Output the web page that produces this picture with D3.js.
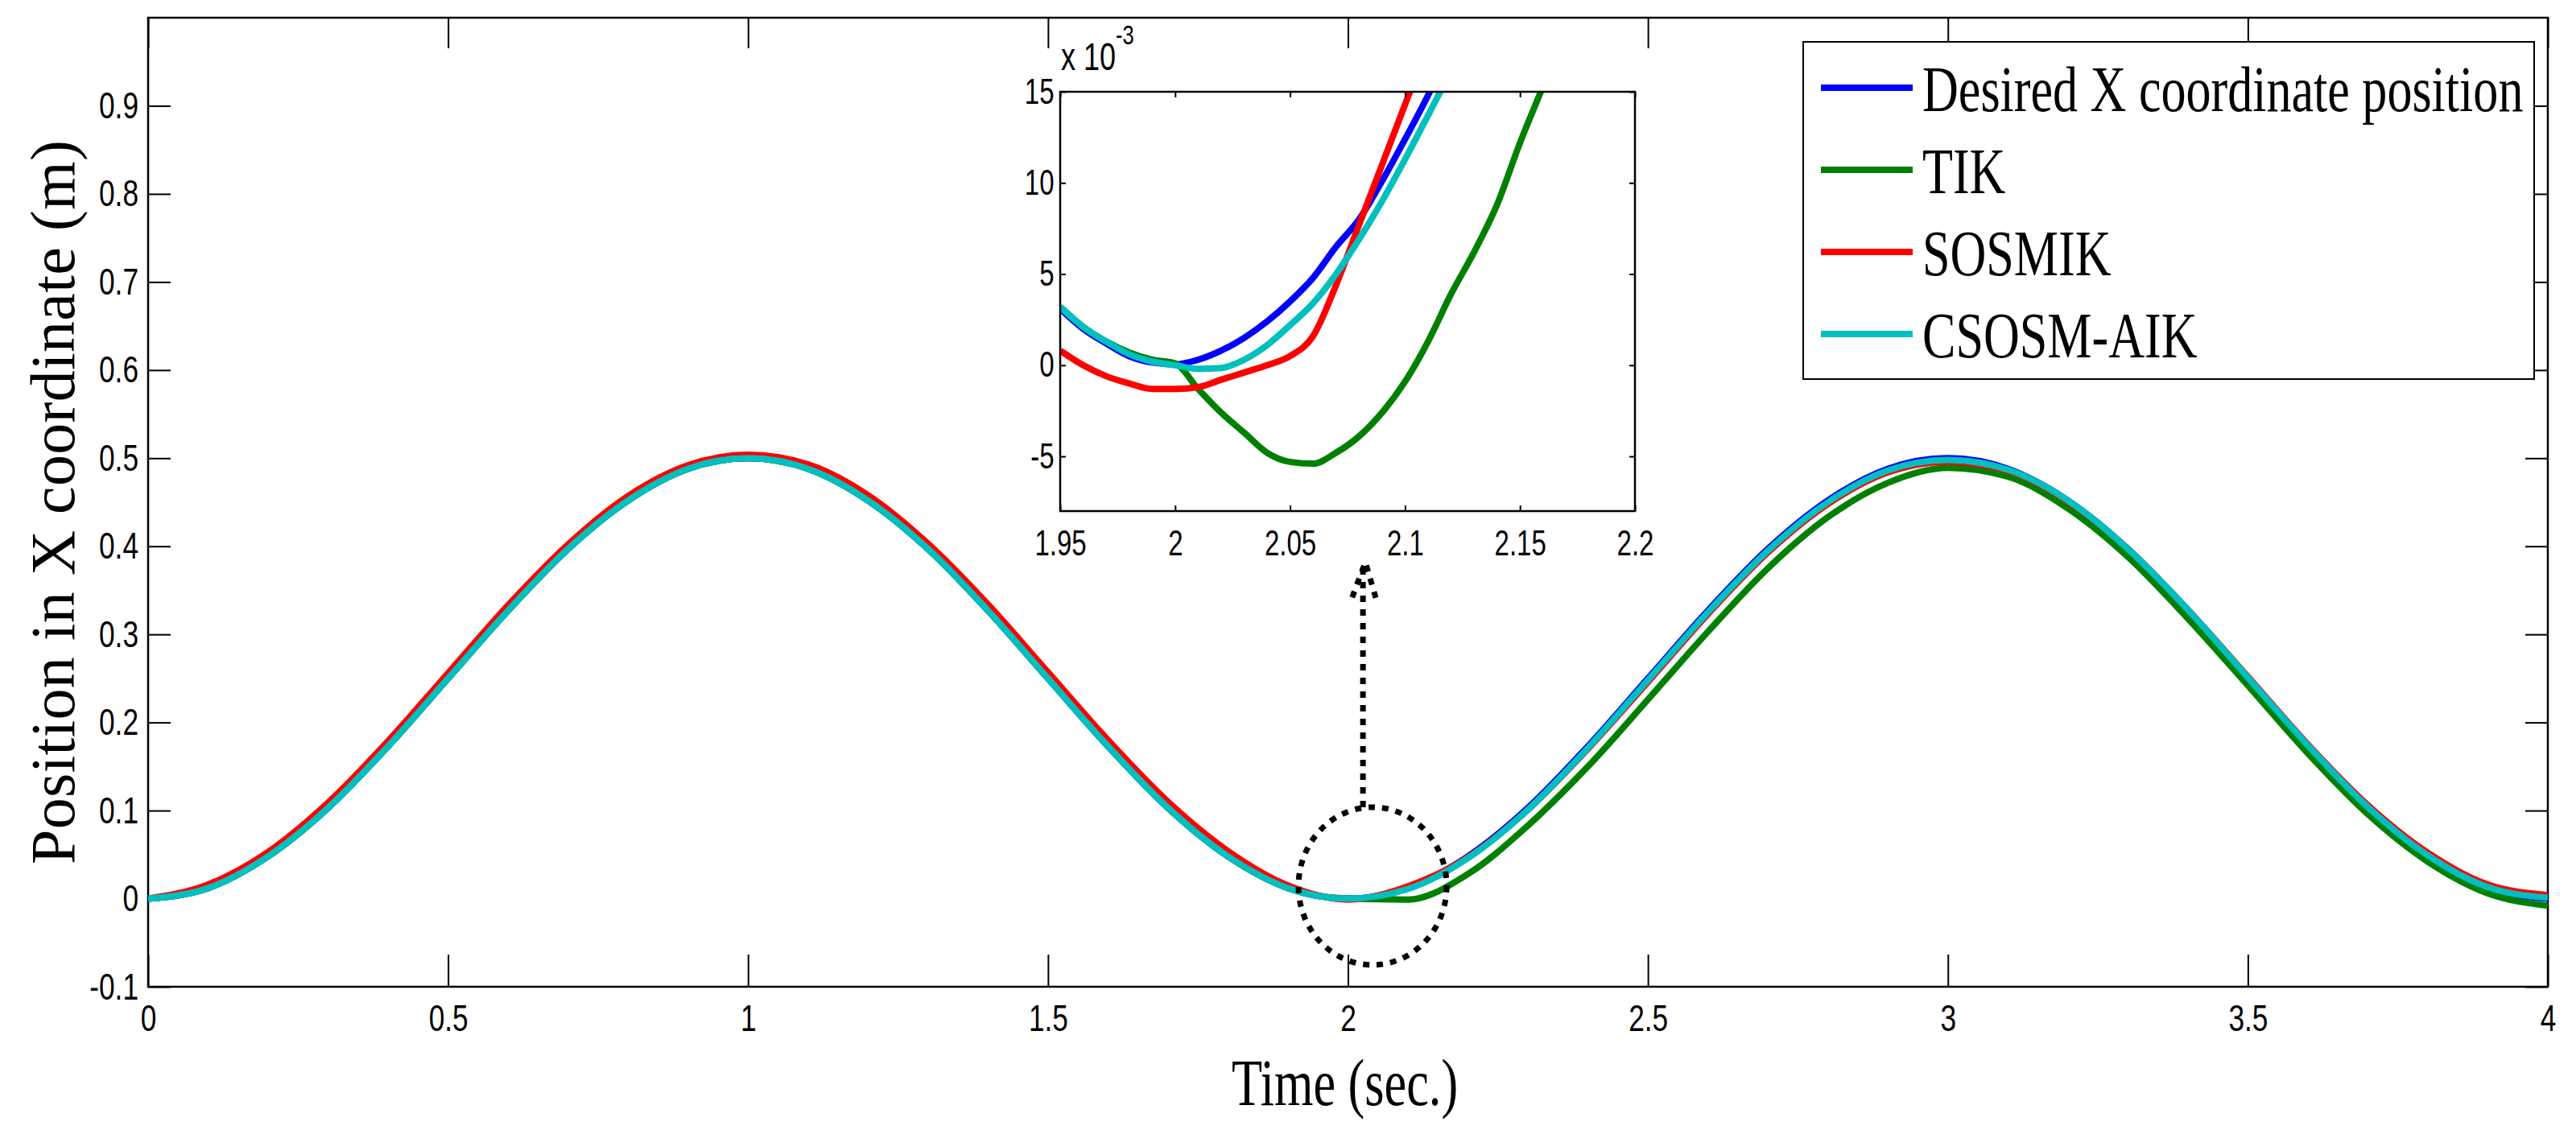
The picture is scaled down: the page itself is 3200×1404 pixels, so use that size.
<!DOCTYPE html>
<html>
<head>
<meta charset="utf-8">
<script src="https://d3js.org/d3.v7.min.js"></script>
<style>
  body { margin: 0; background: #fff; }
</style>
</head>
<body>
<script>
// ---- values ----
const time = [0, 0.1, 0.2, 0.3, 0.4, 0.5, 0.6, 0.7, 0.8, 0.9, 1.0,
              1.1, 1.2, 1.3, 1.4, 1.5, 1.6, 1.7, 1.8, 1.9, 2.0,
              2.1, 2.2, 2.3, 2.4, 2.5, 2.6, 2.7, 2.8, 2.9, 3.0,
              3.1, 3.2, 3.3, 3.4, 3.5, 3.6, 3.7, 3.8, 3.9, 4.0];

const desired = [0, 0.012, 0.048, 0.103, 0.173, 0.250, 0.327, 0.397, 0.452, 0.488, 0.500,
                 0.488, 0.452, 0.397, 0.327, 0.250, 0.173, 0.103, 0.048, 0.012, 0.000,
                 0.012, 0.048, 0.103, 0.173, 0.250, 0.327, 0.397, 0.452, 0.488, 0.500,
                 0.488, 0.452, 0.397, 0.327, 0.250, 0.173, 0.103, 0.048, 0.012, 0.000];

const tik = [0, 0.012, 0.048, 0.103, 0.173, 0.250, 0.327, 0.397, 0.452, 0.488, 0.500,
             0.488, 0.452, 0.397, 0.327, 0.250, 0.173, 0.103, 0.048, 0.012, 0.000,
             -0.001, 0.028, 0.083, 0.150, 0.226, 0.303, 0.375, 0.433, 0.472, 0.489,
             0.479, 0.443, 0.388, 0.318, 0.242, 0.165, 0.096, 0.042, 0.006, -0.008];

const sosmik = [0, 0.016, 0.053, 0.109, 0.179, 0.256, 0.333, 0.402, 0.457, 0.492, 0.504,
                0.493, 0.458, 0.403, 0.334, 0.257, 0.180, 0.110, 0.054, 0.015, -0.001,
                0.014, 0.047, 0.101, 0.170, 0.246, 0.323, 0.393, 0.448, 0.484, 0.496,
                0.486, 0.451, 0.397, 0.328, 0.252, 0.175, 0.106, 0.052, 0.016, 0.004];

const csosm = [0, 0.012, 0.048, 0.103, 0.173, 0.250, 0.327, 0.397, 0.452, 0.488, 0.500,
               0.488, 0.452, 0.397, 0.327, 0.250, 0.173, 0.103, 0.048, 0.012, 0.000,
               0.011, 0.046, 0.101, 0.171, 0.248, 0.325, 0.395, 0.450, 0.486, 0.498,
               0.487, 0.452, 0.397, 0.328, 0.251, 0.174, 0.104, 0.049, 0.013, 0.001];

// zoomed window, values in units of 10^-3 m
const insetTime = [1.95, 1.96, 1.97, 1.98, 1.99, 2.00, 2.01, 2.02, 2.03, 2.04, 2.05, 2.06,
                   2.07, 2.08, 2.09, 2.10, 2.11, 2.12, 2.13, 2.14, 2.15, 2.16, 2.17];
const insetDesired = [3.1, 2.0, 1.2, 0.5, 0.15, 0.05, 0.3, 0.8, 1.5, 2.4, 3.5, 4.8,
                      6.5, 8.0, 10.1, 12.4, 14.8, 17.5, 20, 23, 26, 29, 32];
const insetTik = [3.2, 2.1, 1.3, 0.7, 0.3, 0.1, -1.3, -2.6, -3.7, -4.8, -5.3, -5.4,
                  -4.8, -3.9, -2.6, -0.9, 1.3, 3.9, 6.2, 8.8, 12.2, 15.3, 18.5];
const insetSosmik = [0.8, 0.0, -0.6, -1.0, -1.3, -1.3, -1.2, -0.8, -0.4, 0.0, 0.5, 1.6,
                     4.4, 7.7, 11.0, 14.3, 17.6, 21, 24, 27, 30, 33, 36];
const insetCsosm = [3.2, 2.1, 1.3, 0.6, 0.2, 0.0, -0.2, -0.15, 0.3, 1.1, 2.2, 3.4,
                    5.0, 6.9, 9.0, 11.3, 13.7, 16.2, 19, 22, 25, 28, 31];

const seriesNames = ["Desired X coordinate position", "TIK", "SOSMIK", "CSOSM-AIK"];
const seriesColors = ["#0000ff", "#008000", "#ff0000", "#00bfbf"];

const xTicks = [0, 0.5, 1, 1.5, 2, 2.5, 3, 3.5, 4];
const xTickLabels = ["0", "0.5", "1", "1.5", "2", "2.5", "3", "3.5", "4"];
const yTicks = [-0.1, 0, 0.1, 0.2, 0.3, 0.4, 0.5, 0.6, 0.7, 0.8, 0.9];
const yTickLabels = ["-0.1", "0", "0.1", "0.2", "0.3", "0.4", "0.5", "0.6", "0.7", "0.8", "0.9"];
const insetXTicks = [1.95, 2, 2.05, 2.1, 2.15, 2.2];
const insetXTickLabels = ["1.95", "2", "2.05", "2.1", "2.15", "2.2"];
const insetYTicks = [-5, 0, 5, 10, 15];
const insetYTickLabels = ["-5", "0", "5", "10", "15"];

// dotted marker round the zoomed region and its arrow (data units)
const zoomMark = { t: 2.041, v: 0.0143, rt: 0.1235, rv: 0.0895 };
const arrowTip = { t: 2.029, v: 0.382 };

// ---- layout ----
const W = 3200, H = 1404;
const plot = { left: 184, right: 3165, top: 22, bottom: 1226 };
const box = { left: 1317, right: 2031, top: 114, bottom: 635 };
const sans = "'Liberation Sans', Arial, sans-serif";
const serif = "'Liberation Serif', 'Times New Roman', serif";
const squeeze = "scale(0.75,1)";

const svg = d3.select("body").append("svg")
    .attr("width", W)
    .attr("height", H)
    .style("background", "#fff");

const x = d3.scaleLinear().domain([0, 4]).range([plot.left, plot.right]);
const y = d3.scaleLinear().domain([-0.1, 1.0]).range([plot.bottom, plot.top]);

const xi = d3.scaleLinear().domain([1.95, 2.2]).range([box.left, box.right]);
const yi = d3.scaleLinear().domain([-8, 15]).range([box.bottom, box.top]);

// style an axis group the MATLAB way
let styleAxis = (g, size) => {
    g.select(".domain").remove();
    g.selectAll("line").attr("stroke", "#000").attr("stroke-width", 2);
    g.attr("font-family", sans).attr("font-size", size);
    g.selectAll("text").attr("fill", "#000").attr("transform", squeeze);
};

// ---- main axes ----
svg.append("g")
    .attr("transform", `translate(0,${plot.bottom})`)
    .call(d3.axisBottom(x).tickValues(xTicks).tickFormat((d, i) => xTickLabels[i])
        .tickSizeInner(-40).tickSizeOuter(0).tickPadding(22))
    .call(g => styleAxis(g, 47));

svg.append("g")
    .attr("transform", `translate(0,${plot.top})`)
    .call(d3.axisTop(x).tickValues(xTicks).tickFormat("")
        .tickSizeInner(-38).tickSizeOuter(0))
    .call(g => styleAxis(g, 47));

svg.append("g")
    .attr("transform", `translate(${plot.left},0)`)
    .call(d3.axisLeft(y).tickValues(yTicks).tickFormat((d, i) => yTickLabels[i])
        .tickSizeInner(-28).tickSizeOuter(0).tickPadding(16))
    .call(g => styleAxis(g, 47));

svg.append("g")
    .attr("transform", `translate(${plot.right},0)`)
    .call(d3.axisRight(y).tickValues(yTicks).tickFormat("")
        .tickSizeInner(-28).tickSizeOuter(0))
    .call(g => styleAxis(g, 47));

svg.append("rect")
    .attr("x", plot.left).attr("y", plot.top)
    .attr("width", plot.right - plot.left).attr("height", plot.bottom - plot.top)
    .attr("fill", "none").attr("stroke", "#000").attr("stroke-width", 2.5);

// ---- main curves ----
svg.append("clipPath").attr("id", "clipMain")
    .append("rect")
    .attr("x", plot.left).attr("y", plot.top)
    .attr("width", plot.right - plot.left).attr("height", plot.bottom - plot.top);

const mainSeries = [desired, tik, sosmik, csosm];
const mainLine = d3.line()
    .x((d, i) => x(time[i]))
    .y(d => y(d))
    .curve(d3.curveMonotoneX);

svg.append("g").attr("clip-path", "url(#clipMain)")
    .selectAll("path")
    .data(mainSeries)
    .enter()
    .append("path")
    .attr("d", d => mainLine(d))
    .attr("fill", "none")
    .attr("stroke", (d, i) => seriesColors[i])
    .attr("stroke-width", 8)
    .attr("stroke-linejoin", "round");

// ---- axis labels ----
svg.append("text")
    .attr("transform", `translate(${(plot.left + plot.right) / 2 - 4},1373) ${squeeze}`)
    .attr("text-anchor", "middle")
    .attr("font-family", serif)
    .attr("font-size", 83)
    .text("Time (sec.)");

svg.append("text")
    .attr("transform", `translate(92,${(plot.top + plot.bottom) / 2}) rotate(-90)`)
    .attr("text-anchor", "middle")
    .attr("font-family", serif)
    .attr("font-size", 78)
    .attr("textLength", 900)
    .attr("lengthAdjust", "spacing")
    .text("Position in X coordinate (m)");

// ---- dotted marker and arrow ----
const dots = { stroke: "#000", "stroke-width": 7, "stroke-dasharray": "8,9", fill: "none" };
let applyDots = (sel) => { Object.entries(dots).forEach(([k, v]) => sel.attr(k, v)); return sel; };

applyDots(svg.append("ellipse")
    .attr("cx", x(zoomMark.t)).attr("cy", y(zoomMark.v))
    .attr("rx", x(zoomMark.t + zoomMark.rt) - x(zoomMark.t))
    .attr("ry", y(zoomMark.v) - y(zoomMark.v + zoomMark.rv)));

applyDots(svg.append("line")
    .attr("x1", x(arrowTip.t - 0.004)).attr("y1", y(zoomMark.v + zoomMark.rv))
    .attr("x2", x(arrowTip.t - 0.004)).attr("y2", y(arrowTip.v) + 6));

applyDots(svg.append("path")
    .attr("d", `M${x(arrowTip.t - 0.022)},${y(arrowTip.v - 0.040)} L${x(arrowTip.t)},${y(arrowTip.v)} L${x(arrowTip.t + 0.018)},${y(arrowTip.v - 0.042)}`)
    .attr("stroke-dasharray", "7,5"));

// ---- inset ----
svg.append("rect")
    .attr("x", box.left).attr("y", box.top)
    .attr("width", box.right - box.left).attr("height", box.bottom - box.top)
    .attr("fill", "#fff");

svg.append("clipPath").attr("id", "clipInset")
    .append("rect")
    .attr("x", box.left).attr("y", box.top)
    .attr("width", box.right - box.left).attr("height", box.bottom - box.top);

const insetSeries = [insetDesired, insetTik, insetSosmik, insetCsosm];
const insetLine = d3.line()
    .x((d, i) => xi(insetTime[i]))
    .y(d => yi(d))
    .curve(d3.curveMonotoneX);

svg.append("g").attr("clip-path", "url(#clipInset)")
    .selectAll("path")
    .data(insetSeries)
    .enter()
    .append("path")
    .attr("d", d => insetLine(d))
    .attr("fill", "none")
    .attr("stroke", (d, i) => seriesColors[i])
    .attr("stroke-width", 8)
    .attr("stroke-linejoin", "round");

svg.append("g")
    .attr("transform", `translate(0,${box.bottom})`)
    .call(d3.axisBottom(xi).tickValues(insetXTicks).tickFormat((d, i) => insetXTickLabels[i])
        .tickSizeInner(-7).tickSizeOuter(0).tickPadding(24))
    .call(g => styleAxis(g, 44));

svg.append("g")
    .attr("transform", `translate(0,${box.top})`)
    .call(d3.axisTop(xi).tickValues(insetXTicks).tickFormat("")
        .tickSizeInner(-7).tickSizeOuter(0))
    .call(g => styleAxis(g, 44));

svg.append("g")
    .attr("transform", `translate(${box.left},0)`)
    .call(d3.axisLeft(yi).tickValues(insetYTicks).tickFormat((d, i) => insetYTickLabels[i])
        .tickSizeInner(-7).tickSizeOuter(0).tickPadding(10))
    .call(g => styleAxis(g, 44));

svg.append("g")
    .attr("transform", `translate(${box.right},0)`)
    .call(d3.axisRight(yi).tickValues(insetYTicks).tickFormat("")
        .tickSizeInner(-7).tickSizeOuter(0))
    .call(g => styleAxis(g, 44));

svg.append("rect")
    .attr("x", box.left).attr("y", box.top)
    .attr("width", box.right - box.left).attr("height", box.bottom - box.top)
    .attr("fill", "none").attr("stroke", "#000").attr("stroke-width", 2.5);

// exponent label of the inset
const expo = svg.append("text")
    .attr("transform", `translate(${box.left + 1},87) ${squeeze}`)
    .attr("font-family", sans)
    .attr("font-size", 48);
expo.append("tspan").text("x 10");
expo.append("tspan").attr("font-size", 34).attr("dy", -32).text("-3");

// ---- legend ----
const legend = { left: 2240, top: 52, width: 908, height: 419, firstBaseline: 138, step: 102 };

svg.append("rect")
    .attr("x", legend.left).attr("y", legend.top)
    .attr("width", legend.width).attr("height", legend.height)
    .attr("fill", "#fff").attr("stroke", "#000").attr("stroke-width", 2);

const items = svg.append("g")
    .selectAll("g")
    .data(seriesNames)
    .enter()
    .append("g")
    .attr("transform", (d, i) => `translate(${legend.left},${legend.firstBaseline + i * legend.step})`);

items.append("line")
    .attr("x1", 22).attr("x2", 136)
    .attr("y1", -29).attr("y2", -29)
    .attr("stroke", (d, i) => seriesColors[i])
    .attr("stroke-width", 8);

items.append("text")
    .attr("transform", `translate(148,0) scale(0.776,1)`)
    .attr("font-family", serif)
    .attr("font-size", 80)
    .text(d => d);
</script>
</body>
</html>
